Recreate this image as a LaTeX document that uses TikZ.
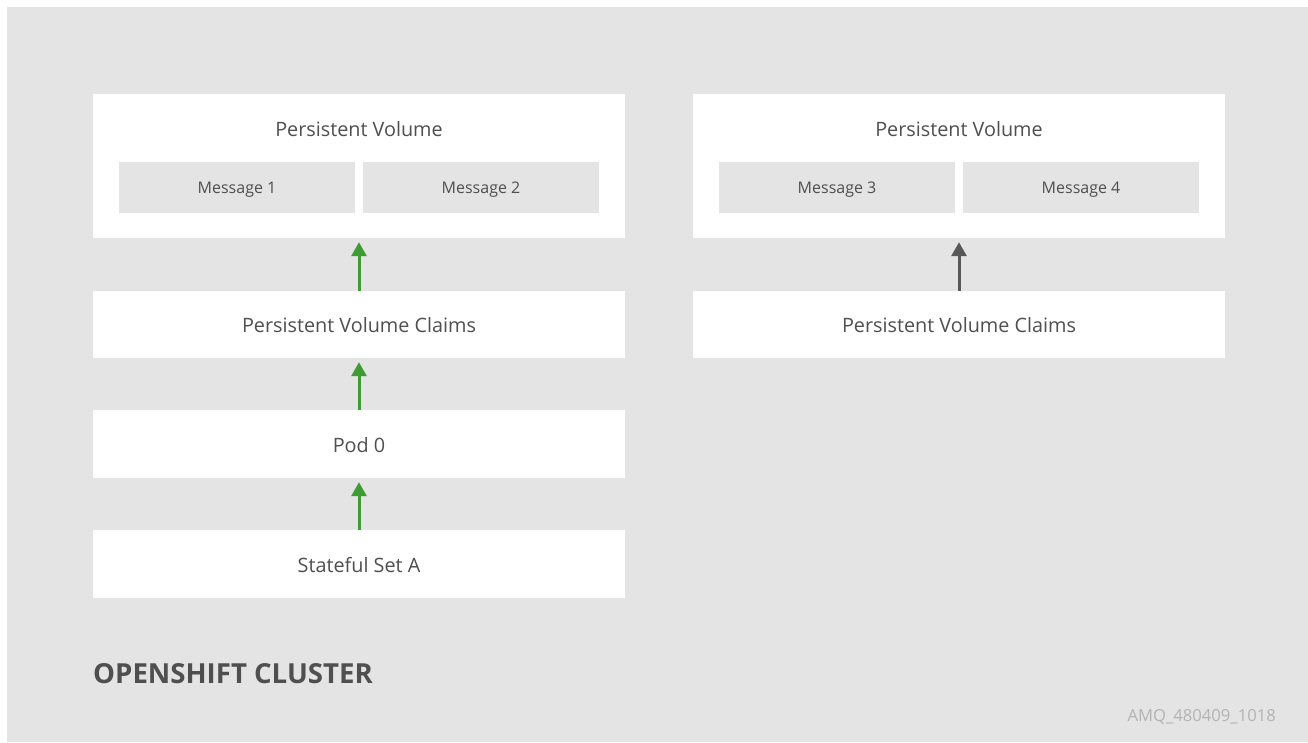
\documentclass[tikz,border=0pt]{standalone}
\usepackage{fontspec}
\setmainfont{Open Sans}
\usetikzlibrary{arrows.meta}
\definecolor{bggray}{HTML}{E4E4E4}
\definecolor{txt}{HTML}{4F4F4F}
\definecolor{grn}{HTML}{3F9C35}
\definecolor{darr}{HTML}{585858}
\definecolor{idgray}{HTML}{B3B3B3}
\tikzset{
  whitebox/.style={fill=white, draw=none, inner sep=0pt, font=\fontsize{19.8}{22}\selectfont, text=txt},
  msgbox/.style={fill=bggray, draw=none, inner sep=0pt, minimum width=236pt, minimum height=51pt, font=\fontsize{16}{19}\selectfont, text=txt},
  msgtxt/.style={font=\fontsize{16}{19}\selectfont, text=txt, inner sep=0pt},
  lbl/.style={font=\fontsize{19.8}{22}\selectfont, text=txt, inner sep=0pt},
  garrow/.style={-{Triangle[length=14pt,width=15pt]}, line width=3pt, color=grn},
  karrow/.style={-{Triangle[length=14pt,width=15pt]}, line width=3pt, color=darr},
}
\begin{document}
\begin{tikzpicture}[x=1pt,y=-1pt]
\useasboundingbox (0,0) rectangle (1308,742);
\fill[bggray] (7,7) rectangle (1308,742);
% left column
\node[whitebox, minimum width=532pt, minimum height=144pt] (pvl) at (359,166) {};
\node[lbl] (pvlt) at (359,129.5) {Persistent Volume};
\node[msgbox] (m1) at (237,187.5) {};
\node[msgtxt] (m1t) at (237,189.5) {Message 1};
\node[msgbox] (m2) at (481,187.5) {};
\node[msgtxt] (m2t) at (481,189.5) {Message 2};
\node[whitebox, minimum width=532pt, minimum height=67pt] (pvcl) at (359,324.5) {};
\node[lbl] (pvclt) at (359,325.5) {Persistent Volume Claims};
\node[whitebox, minimum width=532pt, minimum height=68pt] (pod) at (359,444) {};
\node[lbl] (podt) at (359,445) {Pod 0};
\node[whitebox, minimum width=532pt, minimum height=68pt] (ssa) at (359,564) {};
\node[lbl] (ssat) at (359,565) {Stateful Set A};
% right column
\node[whitebox, minimum width=532pt, minimum height=144pt] (pvr) at (959,166) {};
\node[lbl] (pvrt) at (959,129.5) {Persistent Volume};
\node[msgbox] (m3) at (837,187.5) {};
\node[msgtxt] (m3t) at (837,189.5) {Message 3};
\node[msgbox] (m4) at (1081,187.5) {};
\node[msgtxt] (m4t) at (1081,189.5) {Message 4};
\node[whitebox, minimum width=532pt, minimum height=67pt] (pvcr) at (959,324.5) {};
\node[lbl] (pvcrt) at (959,325.5) {Persistent Volume Claims};
% arrows
\draw[garrow] (pvcl.north) -- ([yshift=-4pt]pvl.south);
\draw[garrow] (pod.north) -- ([yshift=-4pt]pvcl.south);
\draw[garrow] (ssa.north) -- ([yshift=-4pt]pod.south);
\draw[karrow] (pvcr.north) -- ([yshift=-4pt]pvr.south);
% labels
\node[anchor=west, inner sep=0pt, text=txt, font=\fontsize{27.6}{30}\selectfont\bfseries] (cl) at (93,674) {OPENSHIFT CLUSTER};
\node[anchor=east, inner sep=0pt, text=idgray, font=\fontsize{16.6}{19}\selectfont] (id) at (1276,717) {AMQ\_480409\_1018};
\end{tikzpicture}
\end{document}
